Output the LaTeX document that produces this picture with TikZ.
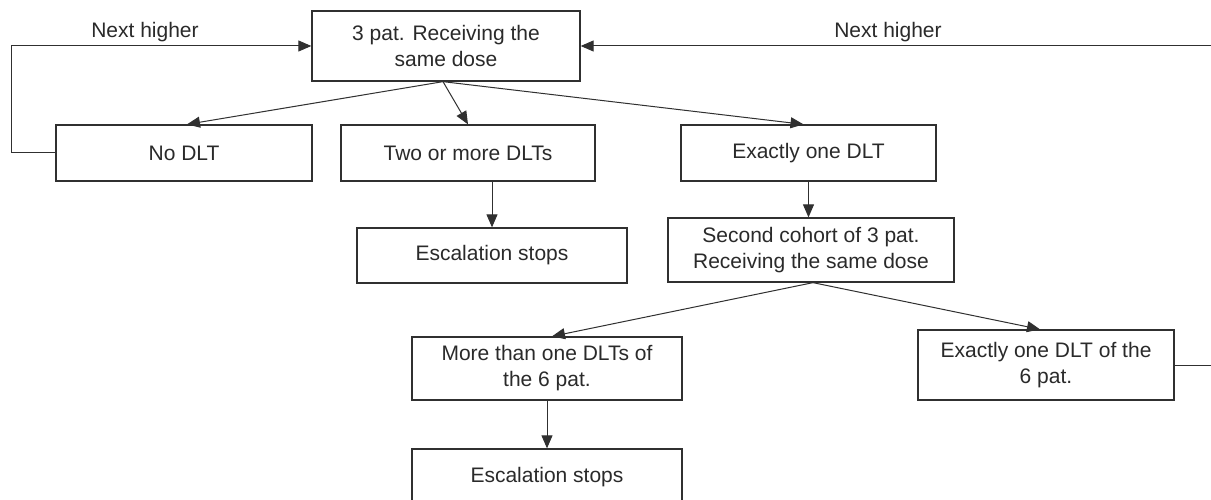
\documentclass[tikz,border=0pt]{standalone}
\usepackage{fontspec}
\setmainfont{Liberation Sans}
\usetikzlibrary{arrows.meta}
\definecolor{ink}{HTML}{2A2A2A}
\definecolor{lin}{HTML}{303030}
\begin{document}
\begin{tikzpicture}[x=1pt,y=-1pt,
  box/.style={draw=lin, line width=1.3pt, inner sep=0pt, align=center,
    text=ink, font=\fontsize{21}{26}\selectfont},
  lbl/.style={text=ink, font=\fontsize{21}{26}\selectfont, inner sep=0pt, anchor=base},
  conn/.style={draw=lin, line width=1pt, -{Triangle[length=13pt,width=11pt]}}]
\useasboundingbox (0,0) rectangle (1211,500);
\fill[white] (0,0) rectangle (1211,500);

\node[box, minimum width=268pt, minimum height=70pt] (T) at (446,46) {3 pat. Receiving the\\same dose};
\node[box, minimum width=256pt, minimum height=56pt] (N) at (184,153) {No DLT};
\node[box, minimum width=254pt, minimum height=56pt] (W) at (468,153) {Two or more DLTs};
\node[box, minimum width=255pt, minimum height=56pt] (E) at (808.5,153) {Exactly one DLT};
\node[box, minimum width=270pt, minimum height=55pt] (S1) at (492,255.5) {Escalation stops};
\node[box, minimum width=286pt, minimum height=64pt] (C) at (811,250) {Second cohort of 3 pat.\\Receiving the same dose};
\node[box, minimum width=270pt, minimum height=63pt] (M) at (547,368.5) {More than one DLTs of\\the 6 pat.};
\node[box, minimum width=256pt, minimum height=70pt] (X) at (1046,365) {Exactly one DLT of the\\6 pat.};
\node[box, minimum width=270pt, minimum height=56pt] (S2) at (547,477) {Escalation stops};

\node[lbl] (L1) at (145,38) {Next higher};
\node[lbl] (L2) at (888,38) {Next higher};

\coordinate (Ts) at ([xshift=-3pt]T.south);
\draw[conn] (Ts) -- ([xshift=3pt]N.north);
\draw[conn] (Ts) -- (W.north);
\draw[conn] (Ts) -- ([xshift=-5pt]E.north);
\draw[conn] (W.south -| S1.north) -- (S1.north);
\draw[conn] (E.south) -- (E.south |- C.north);
\draw[conn] ([xshift=2pt]C.south) -- ([xshift=5pt]M.north);
\draw[conn] ([xshift=2pt]C.south) -- ([xshift=-6pt]X.north);
\draw[conn] (M.south) -- (S2.north);
\draw[conn] (N.west) -- ++(-44,0) |- (T.west);
\draw[conn] (X.east) -- ++(39,0) |- (T.east);
\end{tikzpicture}
\end{document}
